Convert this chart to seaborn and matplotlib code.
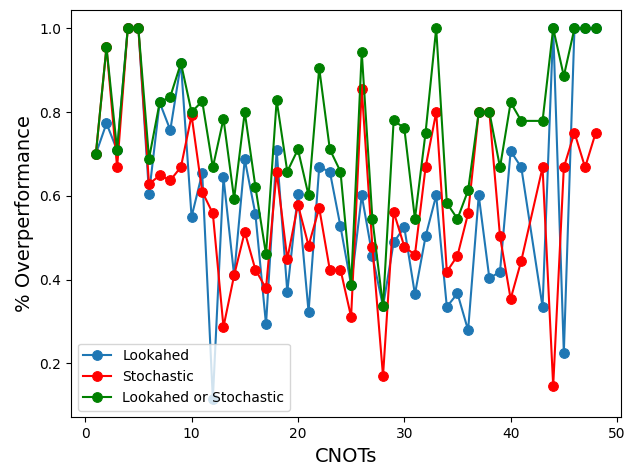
import matplotlib
matplotlib.use("Agg")
import matplotlib.pyplot as plt
import seaborn as sns
import pandas as pd

# CNOT counts (no result for 42)
cnots = [1, 2, 3, 4, 5, 6, 7, 8, 9, 10, 11, 12, 13, 14, 15, 16, 17, 18, 19, 20,
         21, 22, 23, 24, 25, 26, 27, 28, 29, 30, 31, 32, 33, 34, 35, 36, 37, 38,
         39, 40, 41, 43, 44, 45, 46, 47, 48]

lookahead = [0.70, 0.773, 0.709, 1.0, 1.0, 0.605, 0.823, 0.757, 0.917, 0.55,
             0.654, 0.115, 0.644, 0.41, 0.687, 0.557, 0.293, 0.709, 0.371, 0.605,
             0.323, 0.668, 0.658, 0.527, 0.387, 0.601, 0.457, 0.336, 0.489, 0.525,
             0.365, 0.503, 0.601, 0.335, 0.367, 0.279, 0.601, 0.403, 0.419, 0.707,
             0.668, 0.335, 1.0, 0.225, 1.0, 1.0, 1.0]

stochastic = [0.70, 0.955, 0.668, 1.0, 1.0, 0.628, 0.649, 0.637, 0.669, 0.792,
              0.61, 0.558, 0.287, 0.41, 0.514, 0.424, 0.379, 0.658, 0.449, 0.579,
              0.481, 0.571, 0.423, 0.424, 0.311, 0.856, 0.479, 0.170, 0.562, 0.479,
              0.459, 0.668, 0.80, 0.419, 0.457, 0.558, 0.80, 0.80, 0.503, 0.354,
              0.445, 0.668, 0.146, 0.668, 0.751, 0.668, 0.751]

either = [0.70, 0.955, 0.709, 1.0, 1.0, 0.689, 0.823, 0.837, 0.917, 0.80,
          0.826, 0.668, 0.784, 0.593, 0.80, 0.622, 0.460, 0.828, 0.658, 0.711,
          0.601, 0.905, 0.711, 0.658, 0.387, 0.943, 0.545, 0.336, 0.78, 0.762,
          0.545, 0.751, 1.0, 0.583, 0.545, 0.613, 0.80, 0.80, 0.668, 0.823,
          0.779, 0.779, 1.0, 0.886, 1.0, 1.0, 1.0]

df = pd.DataFrame({"CNOTs": cnots, "Lookahed": lookahead,
                   "Stochastic": stochastic, "Lookahed or Stochastic": either})

fig = plt.figure(figsize=(6.27, 4.67), dpi=100)
ax = fig.add_axes([0.113, 0.106, 0.877, 0.873])

series = [("Lookahed", "#1f77b4"), ("Stochastic", "red"),
          ("Lookahed or Stochastic", "green")]
for name, col in series:
    sns.lineplot(data=df, x="CNOTs", y=name, ax=ax, color=col, label=name,
                 marker="o", markersize=7, markeredgecolor=col, linewidth=1.5)

ax.set_xlabel("CNOTs", fontsize=14)
ax.set_ylabel("% Overperformance", fontsize=14)
ax.set_xticks([0, 10, 20, 30, 40, 50])
ax.legend(loc="lower left", fontsize=10)

fig.savefig("out.png", dpi=100)
